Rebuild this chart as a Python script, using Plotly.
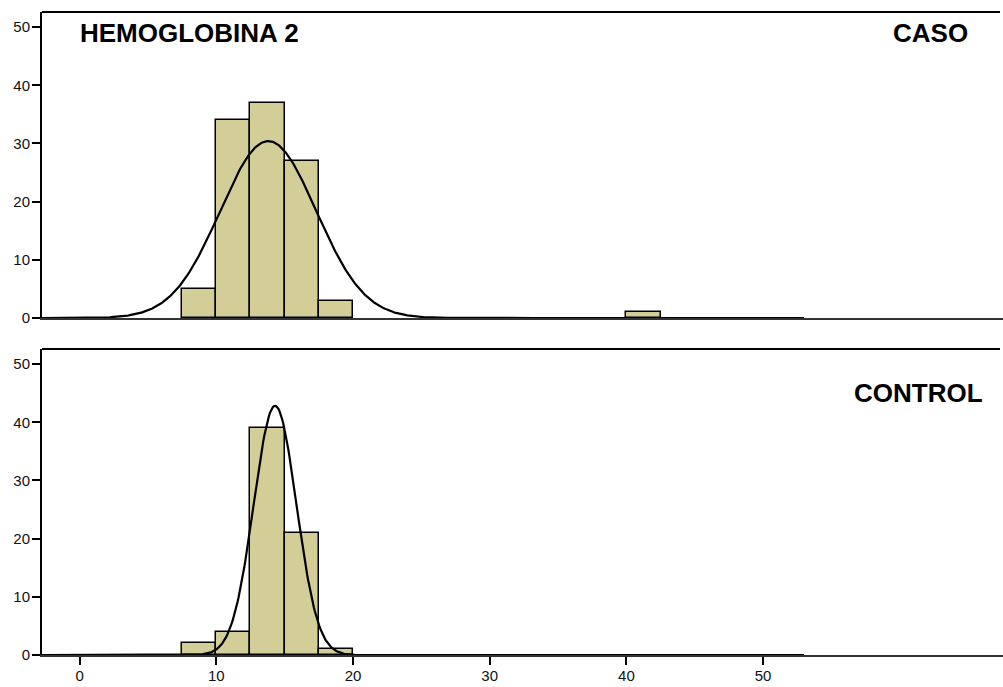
import numpy as np
import plotly.graph_objects as go
from plotly.subplots import make_subplots

# Histogram bins (width 2.5) for HEMOGLOBINA 2
bin_width = 2.5
caso_bin_starts = [7.5, 10.0, 12.5, 15.0, 17.5, 40.0]
caso_counts = [5, 34, 37, 27, 3, 1]
control_bin_starts = [7.5, 10.0, 12.5, 15.0, 17.5]
control_counts = [2, 4, 39, 21, 1]

# Fitted normal curve parameters per group
caso_mean, caso_sd = 13.8, 3.51
control_mean, control_sd = 14.3, 1.56

x_ticks = [0, 10, 20, 30, 40, 50]
y_ticks = [0, 10, 20, 30, 40, 50]

FONT = "Liberation Sans, Arial, sans-serif"
BAR_COLOR = "#D3CE97"

W, H = 1003, 687
ML, MR, MT, MB = 42, 0, 12, 32
x_range = [-2.75, 67.55]
y_range = [0, 52.6]
curve_end = 53.0

fig = make_subplots(rows=2, cols=1, shared_xaxes=True, vertical_spacing=0.048)


def add_group(row, starts, counts, mean, sd):
    centers = [s + bin_width / 2 for s in starts]
    fig.add_trace(
        go.Bar(
            x=centers, y=counts, width=bin_width,
            marker=dict(color=BAR_COLOR, line=dict(color="black", width=1.5)),
            hoverinfo="x+y", showlegend=False,
        ),
        row=row, col=1,
    )
    n = sum(counts)
    xs = np.linspace(x_range[0], curve_end, 800)
    ys = n * bin_width / (sd * np.sqrt(2 * np.pi)) * np.exp(-0.5 * ((xs - mean) / sd) ** 2)
    fig.add_trace(
        go.Scatter(x=xs, y=ys, mode="lines", line=dict(color="black", width=2.2),
                   hoverinfo="skip", showlegend=False),
        row=row, col=1,
    )


add_group(1, caso_bin_starts, caso_counts, caso_mean, caso_sd)
add_group(2, control_bin_starts, control_counts, control_mean, control_sd)

plot_h = H - MT - MB
top_dom = [(655 - 318) / plot_h, 1.0]
bot_dom = [0.0, (655 - 349) / plot_h]

tick_font = dict(family=FONT, size=15, color="#111")
yaxis_common = dict(
    range=y_range, tickvals=y_ticks, ticks="outside", ticklen=8, tickwidth=2,
    tickcolor="black", showline=True, linecolor="black", linewidth=2,
    showgrid=False, zeroline=False, tickfont=tick_font, automargin=False,
    ticklabelstandoff=-1,
)
fig.update_layout(
    yaxis=dict(domain=top_dom, **yaxis_common),
    yaxis2=dict(domain=bot_dom, **yaxis_common),
    xaxis=dict(range=x_range, showline=True, linecolor="#333", linewidth=1.5,
               showticklabels=False, ticks="", showgrid=False, zeroline=False,
               automargin=False),
    xaxis2=dict(range=x_range, tickvals=x_ticks, ticks="outside", ticklen=8,
                tickwidth=2, tickcolor="black", showline=True, linecolor="#333",
                linewidth=1.5, showgrid=False, zeroline=False, tickfont=tick_font,
                automargin=False, ticklabelstandoff=-2),
    width=W, height=H,
    margin=dict(l=ML, r=MR, t=MT, b=MB),
    paper_bgcolor="white", plot_bgcolor="white",
    bargap=0,
)

# Top border of each panel
border_end = (1000 - ML) / (W - ML - MR)
for dom in (top_dom, bot_dom):
    fig.add_shape(type="line", xref="paper", yref="paper",
                  x0=0, x1=border_end, y0=dom[1], y1=dom[1],
                  line=dict(color="black", width=2))

title_font = dict(family=FONT, size=26, color="black")
fig.add_annotation(text="<b>HEMOGLOBINA 2</b>", xref="paper", yref="paper",
                   x=(78 - ML) / (W - ML), y=(655 - 33) / plot_h,
                   xanchor="left", yanchor="middle", showarrow=False, font=title_font)
fig.add_annotation(text="<b>CASO</b>", xref="paper", yref="paper",
                   x=(970 - ML) / (W - ML), y=(655 - 33) / plot_h,
                   xanchor="right", yanchor="middle", showarrow=False, font=title_font)
fig.add_annotation(text="<b>CONTROL</b>", xref="paper", yref="paper",
                   x=(985 - ML) / (W - ML), y=(655 - 393) / plot_h,
                   xanchor="right", yanchor="middle", showarrow=False, font=title_font)

fig.write_html("out.html")
